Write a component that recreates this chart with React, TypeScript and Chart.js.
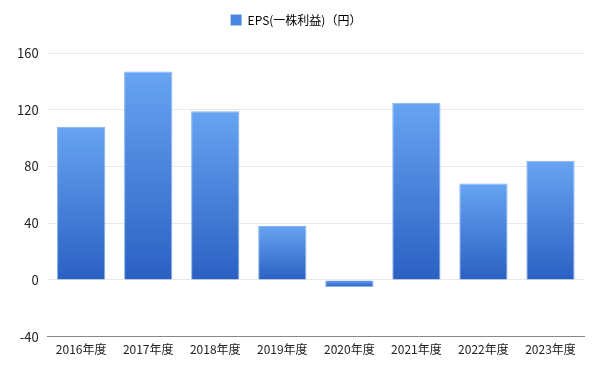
import React, { useEffect, useRef } from "react";
import { Chart, registerables } from "chart.js";

Chart.register(...registerables);

const categories = ["2016年度", "2017年度", "2018年度", "2019年度", "2020年度", "2021年度", "2022年度", "2023年度"];
const epsValues = [108, 147, 119, 38, -5, 125, 68, 84];
const seriesLabel = "EPS(一株利益)（円）";
const yMin = -40;
const yMax = 160;
const yStep = 40;

const FONT = "'Noto Sans CJK JP', 'Noto Sans', sans-serif";

const legendMargin = {
  id: "legendMargin",
  beforeInit(chart: any) {
    const legend = chart.legend;
    if (!legend) return;
    const fit = legend.fit;
    legend.fit = function () {
      fit.bind(legend)();
      this.height += 17;
    };
  },
};

export default function App() {
  const ref = useRef<HTMLCanvasElement | null>(null);
  useEffect(() => {
    if (!ref.current) return;
    const chart = new Chart(ref.current, {
      type: "bar",
      plugins: [legendMargin],
      data: {
        labels: categories,
        datasets: [
          {
            label: seriesLabel,
            data: epsValues,
            backgroundColor: (ctx: any) => {
              const c = ctx.chart;
              const ys = c.scales && c.scales.y;
              if (!ys || ctx.type !== "data") return "#4a86e0";
              const v = ctx.raw as number;
              const top = ys.getPixelForValue(Math.max(v, 0));
              const bot = ys.getPixelForValue(Math.min(v, 0));
              if (!isFinite(top) || !isFinite(bot) || top === bot) return "#4a86e0";
              const g = c.ctx.createLinearGradient(0, top, 0, bot);
              g.addColorStop(0, "#67a4f2");
              g.addColorStop(1, "#2b60c2");
              return g;
            },
            borderColor: "rgba(120,170,240,0.9)",
            borderWidth: 1,
            barPercentage: 0.9,
            categoryPercentage: 0.8,
          },
        ],
      },
      options: {
        animation: false,
        responsive: true,
        maintainAspectRatio: false,
        layout: { padding: { left: 0, right: 8, top: 0, bottom: 0 } },
        plugins: {
          legend: {
            position: "top",
            labels: {
              font: { family: FONT, size: 12 },
              color: "#333",
              boxWidth: 11,
              boxHeight: 11,
              padding: 6,
              generateLabels: () => [
                {
                  text: seriesLabel,
                  fillStyle: "#4a86e0",
                  strokeStyle: "#4a86e0",
                  lineWidth: 0,
                  hidden: false,
                  datasetIndex: 0,
                } as any,
              ],
            },
          },
          tooltip: { enabled: false },
        },
        scales: {
          x: {
            grid: { display: false, drawTicks: false },
            border: { display: true, color: "#888", width: 1 },
            ticks: { font: { family: FONT, size: 12 }, color: "#222", padding: 6 },
          },
          y: {
            min: yMin,
            max: yMax,
            ticks: { stepSize: yStep, font: { family: FONT, size: 13 }, color: "#222", padding: 9 },
            grid: { color: "#e9e9e9", drawTicks: false },
            border: { display: false },
          },
        },
      },
    });
    return () => chart.destroy();
  }, []);
  return (
    <div style={{ width: 584, height: 355 }}>
      <canvas ref={ref} />
    </div>
  );
}
